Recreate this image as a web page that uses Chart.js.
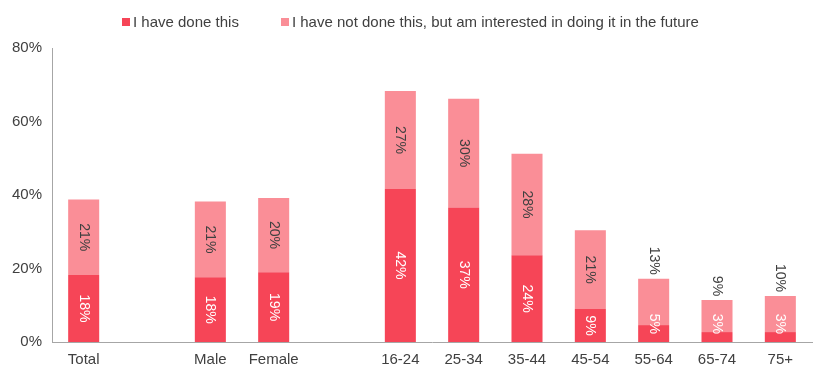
<!DOCTYPE html>
<html>
<head>
<meta charset="utf-8">
<script src="https://cdn.jsdelivr.net/npm/chart.js@4"></script>
<style>
  html, body { margin: 0; padding: 0; background: #fff; }
  #wrap { position: relative; width: 827px; height: 378px; }
  #legend { position: absolute; left: 122px; top: 13px; display: flex; gap: 42px;
            font: 15px "Liberation Sans", Arial, sans-serif; color: #404040; line-height: 18px; }
  #legend .item { display: flex; align-items: center; }
  #legend .box { width: 8px; height: 8px; margin-right: 3px; }
</style>
</head>
<body>
<div id="wrap">
  <canvas id="graf"></canvas>
  <div id="legend"></div>
</div>
<script>
// categories (empty strings are the gaps between groups)
var categories = ['Total', '', 'Male', 'Female', '', '16-24', '25-34', '35-44', '45-54', '55-64', '65-74', '75+'];
var doneValues = [18.2, null, 17.6, 19.0, null, 41.6, 36.6, 23.6, 9.0, 4.6, 2.7, 2.7];
var interestedValues = [20.6, null, 20.6, 20.2, null, 26.7, 29.6, 27.6, 21.4, 12.6, 8.7, 9.8];
var yTicks = [0, 20, 40, 60, 80];

var textColor = '#404040';
var axisColor = '#A6A6A6';

// rotated value labels inside the bars (above the bar when it is too short)
var barLabels = {
    id: 'barLabels',
    afterDatasetsDraw: function (chart) {
        var ctx = chart.ctx;
        ctx.save();
        ctx.font = '14px "Liberation Sans", Arial, sans-serif';
        chart.data.datasets.forEach(function (ds, di) {
            var meta = chart.getDatasetMeta(di);
            meta.data.forEach(function (bar, i) {
                var v = ds.data[i];
                if (v == null) return;
                var txt = Math.round(v) + '%';
                var w = ctx.measureText(txt).width;
                var h = Math.abs(bar.base - bar.y);
                var cy;
                if (di === 1 && h < 60) {
                    cy = bar.y - 4 - w / 2;
                    ctx.fillStyle = textColor;
                } else if (di === 0 && h < w + 12) {
                    cy = bar.base - 8 - w / 2;
                    ctx.fillStyle = '#ffffff';
                } else {
                    cy = (bar.y + bar.base) / 2;
                    ctx.fillStyle = di === 0 ? '#ffffff' : textColor;
                }
                ctx.save();
                ctx.translate(bar.x, cy);
                ctx.rotate(Math.PI / 2);
                ctx.textAlign = 'center';
                ctx.textBaseline = 'middle';
                ctx.fillText(txt, 0, 0);
                ctx.restore();
            });
        });
        ctx.restore();
    }
};

Chart.defaults.font.family = '"Liberation Sans", Arial, sans-serif';
Chart.defaults.color = textColor;

var ctx = document.getElementById('graf').getContext('2d');
var grafico = new Chart(ctx, {
    type: 'bar',
    data: {
        labels: categories,
        datasets: [{
            label: 'I have done this',
            data: doneValues,
            backgroundColor: '#F64557'
        },
        {
            label: 'I have not done this, but am interested in doing it in the future',
            data: interestedValues,
            backgroundColor: '#FA8E97'
        }]
    },
    options: {
        responsive: true,
        maintainAspectRatio: false,
        animation: false,
        layout: { padding: { left: 2, right: 15, top: 48, bottom: 0 } },
        barPercentage: 0.49,
        categoryPercentage: 1,
        plugins: {
            legend: { display: false },
            tooltip: { enabled: false }
        },
        scales: {
            x: {
                stacked: true,
                grid: { display: false, drawTicks: false },
                border: { color: axisColor, width: 1 },
                ticks: { font: { size: 15 }, padding: 9, maxRotation: 0, autoSkip: false }
            },
            y: {
                stacked: true,
                min: 0,
                max: 80,
                grid: { display: false, drawTicks: false },
                border: { color: axisColor, width: 1 },
                afterBuildTicks: function (axis) {
                    axis.ticks = yTicks.map(function (v) { return { value: v }; });
                },
                ticks: {
                    font: { size: 15 },
                    padding: 10,
                    callback: function (v) { return v + '%'; }
                }
            }
        }
    },
    plugins: [barLabels]
});

// legend built from the datasets
var legendEl = document.getElementById('legend');
grafico.data.datasets.forEach(function (ds) {
    var item = document.createElement('div');
    item.className = 'item';
    var box = document.createElement('span');
    box.className = 'box';
    box.style.background = ds.backgroundColor;
    item.appendChild(box);
    item.appendChild(document.createTextNode(ds.label));
    legendEl.appendChild(item);
});
</script>
</body>
</html>
